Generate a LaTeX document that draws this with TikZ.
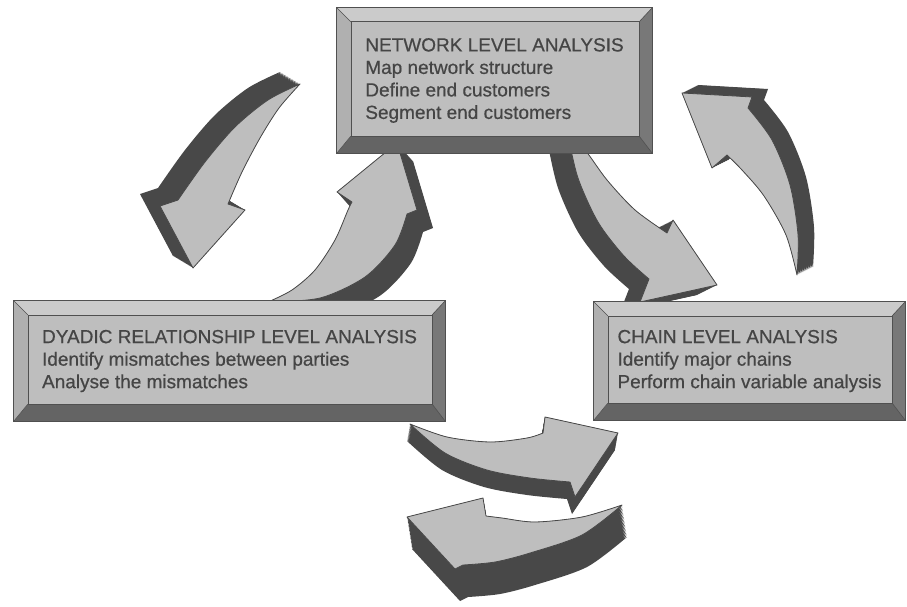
\documentclass[tikz,border=0pt]{standalone}
\usepackage{fontspec}
\usepackage{xcolor}
\usepackage{tikz}
\usetikzlibrary{calc}
\newfontfamily\panelsf[FakeBold=0.6]{Liberation Sans}

\definecolor{facegray}{HTML}{BEBEBE}
\definecolor{bevtop}{HTML}{CBCBCB}
\definecolor{bevleft}{HTML}{B0B0B0}
\definecolor{bevbottom}{HTML}{646464}
\definecolor{bevright}{HTML}{787878}
\definecolor{rimgray}{HTML}{505050}
\definecolor{inkgray}{HTML}{454545}
\definecolor{arrowlight}{HTML}{BEBEBE}
\definecolor{arrowdark}{HTML}{484848}

\tikzset{
  panel/.style={rectangle, fill=facegray, align=left, text=inkgray, inner sep=0pt,
    font={\panelsf\fontsize{19pt}{22.5pt}\selectfont}},
  arrowface/.style={fill=arrowlight, draw=arrowdark, line width=0.8pt, line join=round},
  arrowshade/.style={fill=arrowdark},
}

\newcommand{\fatarrow}[3]{%
  \foreach \k in {0,...,24}
    \fill[arrowshade, shift={({#1*\k/24},{#2*\k/24})}] #3;
  \filldraw[arrowface] #3;
}

\begin{document}
\begin{tikzpicture}[x=1pt, y=-1pt]
\useasboundingbox (0,0) rectangle (907,607);

\fatarrow{-20}{-12}{plot[smooth] coordinates {(300,84) (268,100) (235,127) (205,162) (178,200)}
  -- (160,206) -- (193,268) -- (245,210) -- (228,204)
  -- plot[smooth] coordinates {(228,204) (242,172) (260,138) (279,108) (300,84)} -- cycle}
\fatarrow{16}{18}{plot[smooth] coordinates {(268,302) (292,290) (315,270) (335,240) (348,210) (352,202)}
  -- (337,192) -- (397,143) -- (417,210) -- (407,214)
  -- plot[smooth] coordinates {(407,214) (395,245) (365,277) (320,298) (268,302)} -- cycle}
\fatarrow{-20}{10}{plot[smooth] coordinates {(568,135) (578,178) (598,222) (624,256) (649,279)}
  -- (640,302) -- (717,285) -- (673,220) -- (667,233)
  -- plot[smooth] coordinates {(667,233) (635,210) (607,180) (585,150) (568,135)} -- cycle}
\fatarrow{16}{-8}{plot[smooth] coordinates {(797,275) (786,235) (764,196) (742,170) (727,155)}
  -- (712,168) -- (682,93) -- (752,97) -- (748,108)
  -- plot[smooth] coordinates {(748,108) (772,140) (790,185) (798,235) (797,275)} -- cycle}
\fatarrow{5}{32}{plot[smooth] coordinates {(622,505) (582,517) (535,522) (502,518) (486,516)}
  -- (483,498) -- (407,517) -- (455,569) -- (463,565)
  -- plot[smooth] coordinates {(463,565) (495,562) (530,553) (582,535) (622,505)} -- cycle}
\fatarrow{-3}{17}{plot[smooth] coordinates {(410,424) (447,437) (490,442) (527,438) (543,433)}
  -- (545,417) -- (618,433) -- (575,497) -- (570,482)
  -- plot[smooth] coordinates {(570,482) (530,478) (487,470) (445,453) (410,424)} -- cycle}

\node[panel, minimum width=315pt, minimum height=145pt] (NLA) at (494.5,80.5)
  {NETWORK LEVEL ANALYSIS\\Map network structure\\Define end customers\\Segment end customers};
\node[panel, minimum width=311pt, minimum height=118pt] (CLA) at (749.5,361)
  {CHAIN LEVEL ANALYSIS\\Identify major chains\\Perform chain variable analysis};
\node[panel, minimum width=431pt, minimum height=120pt, left of=CLA, node distance=520pt] (DRA)
  {DYADIC RELATIONSHIP LEVEL ANALYSIS\\Identify mismatches between parties\\Analyse the mismatches};

\foreach \b in {NLA,CLA,DRA} {
  \coordinate (\b-a) at ($(\b.north west)+(14,14)$);
  \coordinate (\b-b) at ($(\b.north east)+(-13,14)$);
  \coordinate (\b-c) at ($(\b.south east)+(-13,-17)$);
  \coordinate (\b-d) at ($(\b.south west)+(14,-17)$);
  \fill[bevtop] (\b.north west) -- (\b.north east) -- (\b-b) -- (\b-a) -- cycle;
  \fill[bevright] (\b.north east) -- (\b.south east) -- (\b-c) -- (\b-b) -- cycle;
  \fill[bevbottom] (\b.south east) -- (\b.south west) -- (\b-d) -- (\b-c) -- cycle;
  \fill[bevleft] (\b.south west) -- (\b.north west) -- (\b-a) -- (\b-d) -- cycle;
  \draw[rimgray, line width=0.6pt] (\b-a) rectangle (\b-c);
  \draw[rimgray, line width=0.6pt] (\b.north west) -- (\b-a) (\b.north east) -- (\b-b)
    (\b.south east) -- (\b-c) (\b.south west) -- (\b-d);
  \draw[rimgray, line width=0.8pt] (\b.north west) rectangle (\b.south east);
}
\end{tikzpicture}
\end{document}
